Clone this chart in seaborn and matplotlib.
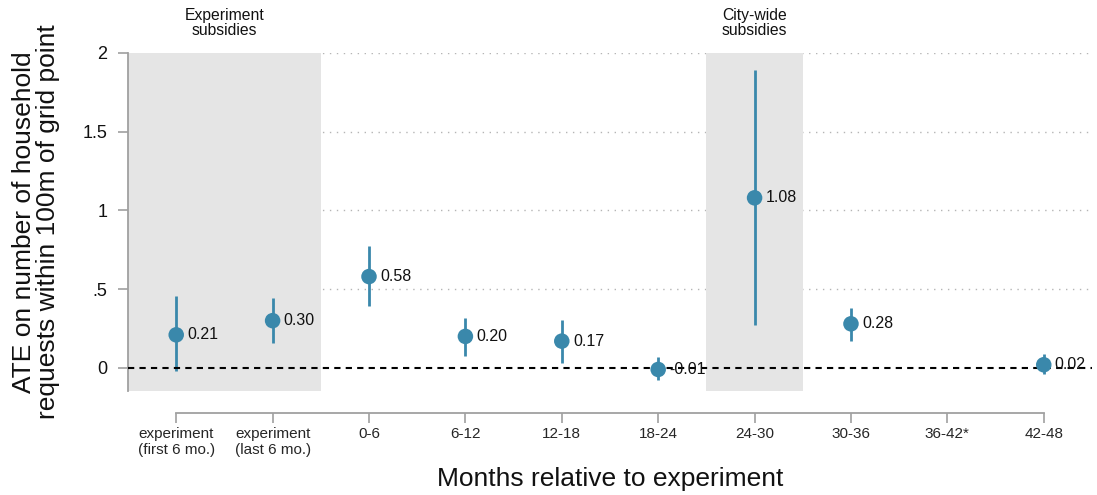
import numpy as np
import pandas as pd
import matplotlib
matplotlib.use("Agg")
import matplotlib.pyplot as plt
import seaborn as sns

categories = ["experiment\n(first 6 mo.)", "experiment\n(last 6 mo.)", "0-6", "6-12",
              "12-18", "18-24", "24-30", "30-36", "36-42*", "42-48"]
estimates = [0.21, 0.30, 0.58, 0.20, 0.17, -0.01, 1.08, 0.28, np.nan, 0.02]
ci_low = [-0.02, 0.16, 0.39, 0.076, 0.034, -0.08, 0.27, 0.173, np.nan, -0.038]
ci_high = [0.457, 0.444, 0.777, 0.317, 0.305, 0.072, 1.89, 0.38, np.nan, 0.089]
labels = ["0.21", "0.30", "0.58", "0.20", "0.17", "-0.01", "1.08", "0.28", "", "0.02"]
yticks = [0, 0.5, 1, 1.5, 2]
ytick_labels = ["0", ".5", "1", "1.5", "2"]
shade_ranges = [(-0.5, 1.5), (5.5, 6.5)]
shade_titles = ["Experiment\nsubsidies", "City-wide\nsubsidies"]

sns.set_theme(style="white")
plt.rcParams['font.family'] = ['Liberation Sans', 'DejaVu Sans']

df = pd.DataFrame({"pos": np.arange(len(categories)), "est": estimates,
                   "lo": ci_low, "hi": ci_high, "lab": labels})

fig = plt.figure(figsize=(10.97, 4.95), dpi=100)
ax = fig.add_axes([0.1167, 0.210, 0.8787, 0.683])

color = "#3A88AB"
ax.set_xlim(-0.5, 9.5)
ax.set_ylim(-0.147, 2)

# shaded periods
for (a, b), t in zip(shade_ranges, shade_titles):
    ax.axvspan(a, b, color="#E5E5E5", zorder=1, lw=0)
    ax.text((a + b) / 2, 1.045, t, transform=ax.get_xaxis_transform(),
            ha="center", va="bottom", fontsize=11.3, color="#111111", linespacing=1.0)

# grid lines
for yv in yticks[1:]:
    ax.axhline(yv, color="#B5B5B5", lw=1.0, ls=(0, (1, 4)), zorder=0.5)
ax.axhline(0, color="black", lw=1.5, ls=(0, (3, 2.5)), zorder=4)

d = df.dropna()
ax.vlines(d["pos"], d["lo"], d["hi"], color=color, lw=2.0, zorder=3)
sns.scatterplot(data=d, x="pos", y="est", ax=ax, color=color, s=125,
                edgecolor="none", zorder=5, legend=False)
for _, r in d.iterrows():
    ax.annotate(r["lab"], (r["pos"], r["est"]), xytext=(8, 0), textcoords="offset points",
                ha="left", va="center", fontsize=11.5, color="#111111", zorder=6)

ax.set_xticks(np.arange(len(categories)))
ax.set_xticklabels(categories, fontsize=11, color="#111111", linespacing=1.0)
ax.set_yticks(yticks)
ax.set_yticklabels(ytick_labels, fontsize=13, color="#111111")

for s in ["top", "right"]:
    ax.spines[s].set_visible(False)
ax.spines["left"].set_color("#A0A0A0")
ax.spines["left"].set_linewidth(1.3)
ax.spines["bottom"].set_color("#A0A0A0")
ax.spines["bottom"].set_linewidth(1.3)
ax.spines["bottom"].set_position(("outward", 16))
ax.spines["bottom"].set_bounds(0, 9)
ax.tick_params(axis="both", which="major", length=7, width=1.2, color="#A0A0A0",
               direction="out", bottom=True, left=True)
ax.tick_params(axis="x", pad=3)
ax.tick_params(axis="y", pad=8)

ax.set_xlabel("Months relative to experiment", fontsize=19, color="#111111", labelpad=7)
ax.set_ylabel("ATE on number of household\nrequests within 100m of grid point",
              fontsize=19, color="#111111", linespacing=1.0)
ax.yaxis.set_label_coords(-0.0705, 0.5)

fig.savefig("out.png", dpi=100)
